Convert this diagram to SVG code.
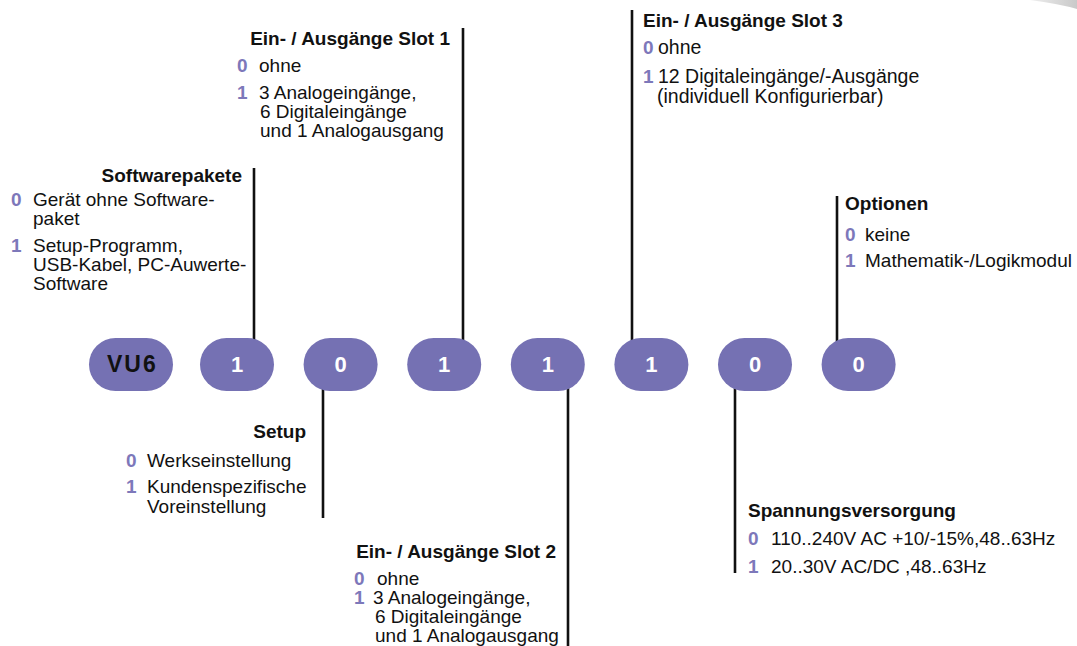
<svg xmlns="http://www.w3.org/2000/svg" width="1077" height="646" viewBox="0 0 1077 646">
<defs>
<linearGradient id="ghost" x1="0" y1="0" x2="1" y2="0"><stop offset="0" stop-color="#eeeeee"/><stop offset="1" stop-color="#c9c9c9"/></linearGradient>
</defs>
<style>
text{font-family:"Liberation Sans",Arial,sans-serif;font-size:19px;fill:#111}
.h{font-weight:bold}
.end{text-anchor:end}
.n{font-weight:bold;fill:#7d78ba}
.w{font-size:19.5px}
.pill{fill:#7571b3}
.pl{font-weight:bold;font-size:22px;fill:#fff;text-anchor:middle}
.vu{font-weight:bold;font-size:23px;fill:#111;letter-spacing:2px}
.ln{stroke:#111;stroke-width:2.6;fill:none}
</style>
<rect width="1077" height="646" fill="#fff"/>
<path d="M1030,0 L1077,0 L1077,9 Q1060,4 1030,0 Z" fill="url(#ghost)"/>
<g id="connectors">
<line class="ln" x1="254" y1="168" x2="254" y2="345"/>
<line class="ln" x1="463" y1="28" x2="463" y2="345"/>
<line class="ln" x1="632" y1="10" x2="632" y2="345"/>
<line class="ln" x1="837" y1="196" x2="837" y2="345"/>
<line class="ln" x1="323" y1="385" x2="323" y2="518"/>
<line class="ln" x1="568" y1="385" x2="568" y2="646"/>
<line class="ln" x1="735" y1="385" x2="735" y2="573"/>
</g>
<g id="pill-vu6"><rect class="pill" x="89" y="338" width="84" height="53" rx="26.5"/><text class="vu" x="107" y="372">VU6</text></g>
<g id="pill-1"><rect class="pill" x="200" y="338" width="74" height="53" rx="26.5"/><text class="pl" x="237" y="372">1</text></g>
<g id="pill-2"><rect class="pill" x="303.6" y="338" width="74" height="53" rx="26.5"/><text class="pl" x="340.6" y="372">0</text></g>
<g id="pill-3"><rect class="pill" x="407.2" y="338" width="74" height="53" rx="26.5"/><text class="pl" x="444.2" y="372">1</text></g>
<g id="pill-4"><rect class="pill" x="510.8" y="338" width="74" height="53" rx="26.5"/><text class="pl" x="547.8" y="372">1</text></g>
<g id="pill-5"><rect class="pill" x="614.4" y="338" width="74" height="53" rx="26.5"/><text class="pl" x="651.4" y="372">1</text></g>
<g id="pill-6"><rect class="pill" x="718" y="338" width="74" height="53" rx="26.5"/><text class="pl" x="755" y="372">0</text></g>
<g id="pill-7"><rect class="pill" x="821.6" y="338" width="74" height="53" rx="26.5"/><text class="pl" x="858.6" y="372">0</text></g>
<g id="softwarepakete">
<text class="h end" x="242" y="182">Softwarepakete</text>
<text class="n" x="11" y="206">0</text><text x="33" y="206">Gerät ohne Software-</text>
<text x="33" y="225">paket</text>
<text class="n" x="11" y="252">1</text><text x="33" y="252">Setup-Programm,</text>
<text x="33" y="271">USB-Kabel, PC-Auwerte-</text>
<text x="33" y="290">Software</text>
</g>
<g id="slot1">
<text class="h end" x="450" y="45">Ein- / Ausgänge Slot 1</text>
<text class="n" x="237" y="72">0</text><text x="259" y="72">ohne</text>
<text class="n" x="237" y="99">1</text><text x="259" y="99">3 Analogeingänge,</text>
<text x="260" y="118">6 Digitaleingänge</text>
<text x="260" y="137">und 1 Analogausgang</text>
</g>
<g id="slot3">
<text class="h" x="643" y="27">Ein- / Ausgänge Slot 3</text>
<text class="n" x="643" y="54">0</text><text class="w" x="658" y="54">ohne</text>
<text class="n" x="643" y="83">1</text><text class="w" x="658" y="83">12 Digitaleingänge/-Ausgänge</text>
<text class="w" x="657" y="103">(individuell Konfigurierbar)</text>
</g>
<g id="optionen">
<text class="h" x="845" y="210">Optionen</text>
<text class="n" x="845" y="241">0</text><text x="865" y="241">keine</text>
<text class="n" x="845" y="267">1</text><text x="865" y="267">Mathematik-/Logikmodul</text>
</g>
<g id="setup">
<text class="h end" x="306" y="438">Setup</text>
<text class="n" x="126" y="467">0</text><text x="147" y="467">Werkseinstellung</text>
<text class="n" x="126" y="493">1</text><text x="147" y="493">Kundenspezifische</text>
<text x="147" y="513">Voreinstellung</text>
</g>
<g id="slot2">
<text class="h end" x="556" y="558">Ein- / Ausgänge Slot 2</text>
<text class="n" x="354" y="585">0</text><text x="377" y="585">ohne</text>
<text class="n" x="354" y="604">1</text><text x="373" y="604">3 Analogeingänge,</text>
<text x="375" y="623">6 Digitaleingänge</text>
<text x="375" y="642">und 1 Analogausgang</text>
</g>
<g id="spannung">
<text class="h" x="748" y="517">Spannungsversorgung</text>
<text class="n" x="748" y="545">0</text><text x="771" y="545">110..240V AC +10/-15%,48..63Hz</text>
<text class="n" x="748" y="573">1</text><text x="771" y="573">20..30V AC/DC ,48..63Hz</text>
</g>
</svg>
